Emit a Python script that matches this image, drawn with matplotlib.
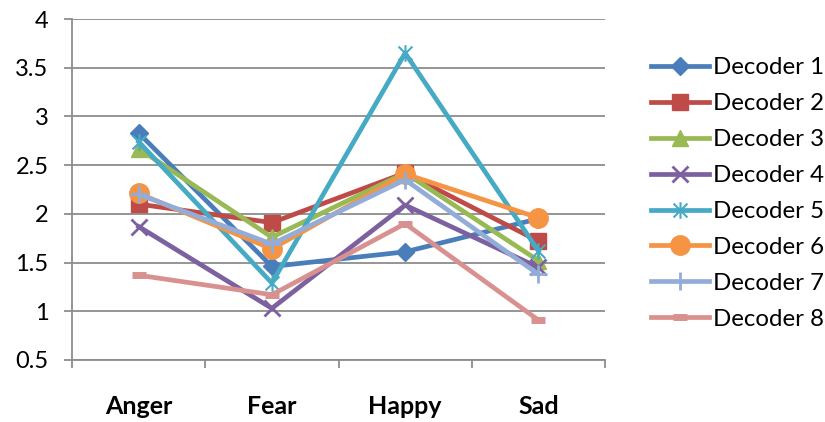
import matplotlib
matplotlib.use("Agg")
import matplotlib.pyplot as plt
from matplotlib.path import Path

categories = ["Anger", "Fear", "Happy", "Sad"]
decoder_1 = [2.83, 1.46, 1.61, 1.95]
decoder_2 = [2.10, 1.91, 2.42, 1.72]
decoder_3 = [2.67, 1.76, 2.42, 1.52]
decoder_4 = [1.87, 1.03, 2.09, 1.45]
decoder_5 = [2.74, 1.29, 3.65, 1.62]
decoder_6 = [2.21, 1.64, 2.41, 1.96]
decoder_7 = [2.20, 1.69, 2.35, 1.38]
decoder_8 = [1.37, 1.17, 1.90, 0.91]
series_names = ["Decoder 1", "Decoder 2", "Decoder 3", "Decoder 4",
                "Decoder 5", "Decoder 6", "Decoder 7", "Decoder 8"]
series = [decoder_1, decoder_2, decoder_3, decoder_4,
          decoder_5, decoder_6, decoder_7, decoder_8]

colors = ["#4A7EBB", "#BE4B48", "#98B954", "#7D60A0",
          "#46AAC5", "#F59443", "#93ADD8", "#D99190"]

# excel style "star": an x with a vertical bar through it
star = Path([(-1, -1), (1, 1), (-1, 1), (1, -1), (0, -1.2), (0, 1.2)],
            [Path.MOVETO, Path.LINETO, Path.MOVETO, Path.LINETO, Path.MOVETO, Path.LINETO])

styles = [
    dict(marker="D", ms=9, mew=1),
    dict(marker="s", ms=11, mew=1),
    dict(marker="^", ms=11, mew=1),
    dict(marker="x", ms=11, mew=2),
    dict(marker=star, ms=12, mew=1.5, mfc="none"),
    dict(marker="o", ms=14, mew=1),
    dict(marker="+", ms=13, mew=2),
    dict(marker="_", ms=10, mew=5),
]

plt.rcParams["font.family"] = ["Lato", "DejaVu Sans"]

fig = plt.figure(figsize=(8.25, 4.22), dpi=100)
ax = fig.add_axes([72 / 825, 1 - 360 / 422, 533 / 825, 341 / 422])

x = list(range(len(categories)))
for name, vals, c, st in zip(series_names, series, colors, styles):
    ax.plot(x, vals, color=c, lw=3.4, label=name, mec=c,
            mfc=st.pop("mfc", c), solid_joinstyle="round", **st)

ax.set_xlim(-0.5, 3.5)
ax.set_ylim(0.5, 4)
ax.set_yticks([0.5, 1, 1.5, 2, 2.5, 3, 3.5, 4])
ax.set_yticklabels(["0.5", "1", "1.5", "2", "2.5", "3", "3.5", "4"])
ax.grid(axis="y", color="#8C8C8C", lw=1.3)
ax.set_axisbelow(True)

ax.set_xticks(x)
ax.set_xticklabels(categories, fontweight="bold", fontsize=18)
ax.set_xticks([-0.5, 0.5, 1.5, 2.5, 3.5], minor=True)
ax.tick_params(axis="x", which="major", length=0, pad=25)
ax.tick_params(axis="x", which="minor", length=6, width=1.3, color="#8C8C8C")
ax.tick_params(axis="y", length=6, width=1.3, color="#8C8C8C", pad=11, labelsize=17)

for s in ["top", "right"]:
    ax.spines[s].set_visible(False)
for s in ["left", "bottom"]:
    ax.spines[s].set_color("#8C8C8C")
    ax.spines[s].set_linewidth(1.3)

fig.legend(loc="center left", bbox_to_anchor=(651 / 825, 1 - 193.5 / 422),
           frameon=False, fontsize=17.3, handlelength=2.4, handletextpad=0.2,
           labelspacing=0.62, borderpad=0, borderaxespad=0)

fig.savefig("out.png", dpi=100)
